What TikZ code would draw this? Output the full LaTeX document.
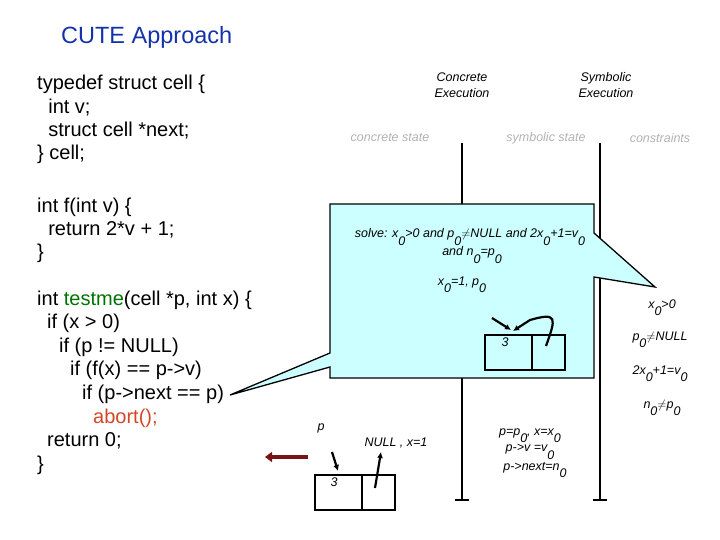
\documentclass[tikz,border=0pt]{standalone}
\usepackage{fontspec}
\setmainfont{Liberation Sans}
\usetikzlibrary{arrows.meta}
\definecolor{darkred}{RGB}{120,20,20}
\definecolor{callfill}{RGB}{204,255,255}
\definecolor{titleblue}{RGB}{20,50,170}
\definecolor{abortred}{RGB}{210,70,40}
\newcommand{\zsub}[1]{\raisebox{-1.1ex}{#1}}
\begin{document}
\begin{tikzpicture}[x=1pt,y=-1pt,
 code/.style={anchor=west,inner sep=0,font=\fontsize{20}{22}\selectfont},
 small/.style={inner sep=0,font=\fontsize{12.5}{14}\selectfont\itshape},
 gray/.style={small,text=black!30},
 cellb/.style={draw,line width=2pt},
 arr/.style={line width=2.2pt,-{Latex[length=6pt,width=6pt]}}]
\useasboundingbox (0,0) rectangle (720,540);
\node[inner sep=0,anchor=west,font=\fontsize{23.5}{26}\selectfont,text=titleblue] (title) at (61,37) {CUTE Approach};
\node[code] (c1) at (37,84) {typedef struct cell \{};
\node[code] (c2) at (37,108) {\ \ int v;};
\node[code] (c3) at (37,131) {\ \ struct cell *next;};
\node[code] (c4) at (37,154) {\} cell;};
\node[code] (c5) at (37,207) {int f(int v) \{};
\node[code] (c6) at (37,230) {\ \ return 2*v + 1;};
\node[code] (c7) at (37,253) {\}};
\node[code] (c8) at (37,300) {int \textcolor{green!45!black}{testme}(cell *p, int x) \{};
\node[code] (c9) at (47,323) {if (x > 0)};
\node[code] (c10) at (59,347) {if (p != NULL)};
\node[code] (c11) at (70,370) {if (f(x) == p->v)};
\node[code] (c12) at (82,394) {if (p->next == p)};
\node[code,text=abortred] (c13) at (93,418) {abort();};
\node[code] (c14) at (47,441) {return 0;};
\node[code] (c15) at (37,465) {\}};
% headers
\node[small,align=center,font=\fontsize{12.5}{16}\selectfont\itshape] (ce) at (462,85) {Concrete\\Execution};
\node[small,align=center,font=\fontsize{12.5}{16}\selectfont\itshape] (se) at (606,85) {Symbolic\\Execution};
\node[gray] (cs) at (390,138) {concrete state};
\node[gray] (ss) at (546,138) {symbolic state};
\node[gray] (cn) at (660,138) {constraints};
% timelines
\coordinate (t1a) at (462,143); \coordinate (t1b) at (462,500);
\coordinate (t2a) at (600,143); \coordinate (t2b) at (600,500);
\draw[line width=1.3pt] (t1a)--(t1b); \draw[line width=1.3pt] (455,500)--(469,500);
\draw[line width=1.3pt] (t2a)--(t2b); \draw[line width=1.3pt] (593,500)--(607,500);
% callout
\draw[line width=1.3pt,fill=callfill]
 (330,204) -- (594,204) -- (594,233) -- (655,287) -- (594,277) -- (594,378) -- (330,378) -- (330,367) -- (230,395) -- (330,353) -- cycle;
\node[small] (s1) at (470,237) {solve: x\zsub{0}>0 and p\zsub{0}$\neq$NULL and 2x\zsub{0}+1=v\zsub{0}};
\node[small] (s2) at (472,255) {and n\zsub{0}=p\zsub{0}};
\node[small] (s3) at (462,285) {x\zsub{0}=1, p\zsub{0}};
\draw[cellb] (485,335) rectangle (565,370); \draw[cellb] (532,335)--(532,370);
\node[small] (v3a) at (505,342) {3};
\coordinate (a1s) at (492,318); \coordinate (a1e) at (511,330);
\draw[arr] (a1s)--(a1e);
\coordinate (a2s) at (546,346); \coordinate (a2e) at (513,331);
\draw[arr] (a2s) .. controls (556,318) and (558,312) .. (530,320) -- (a2e);
% constraints
\node[small] (k1) at (662,308) {x\zsub{0}>0};
\node[small] (k2) at (660,340) {p\zsub{0}$\neq$NULL};
\node[small] (k3) at (660,374) {2x\zsub{0}+1=v\zsub{0}};
\node[small] (k4) at (662,408) {n\zsub{0}$\neq$p\zsub{0}};
% symbolic state
\node[small] (ss2) at (530,436) {p=p\zsub{0}, x=x\zsub{0}};
\node[small] (ss3) at (530,452) {p->v =v\zsub{0}};
\node[small] (ss4) at (535,470) {p->next=n\zsub{0}};
% concrete state
\node[small] (pl) at (321,428) {p};
\node[small] (nl) at (396,443) {NULL , x=1};
\draw[cellb] (315,475) rectangle (395,510); \draw[cellb] (362,475)--(362,510);
\node[small] (v3b) at (334,482) {3};
\draw[arr] (332,452)--(338,471);
\draw[arr] (375,488)--(381,452);
\draw[line width=4pt,darkred,-{Triangle[length=7pt,width=10pt]}] (308,457)--(265,457);
\end{tikzpicture}
\end{document}
